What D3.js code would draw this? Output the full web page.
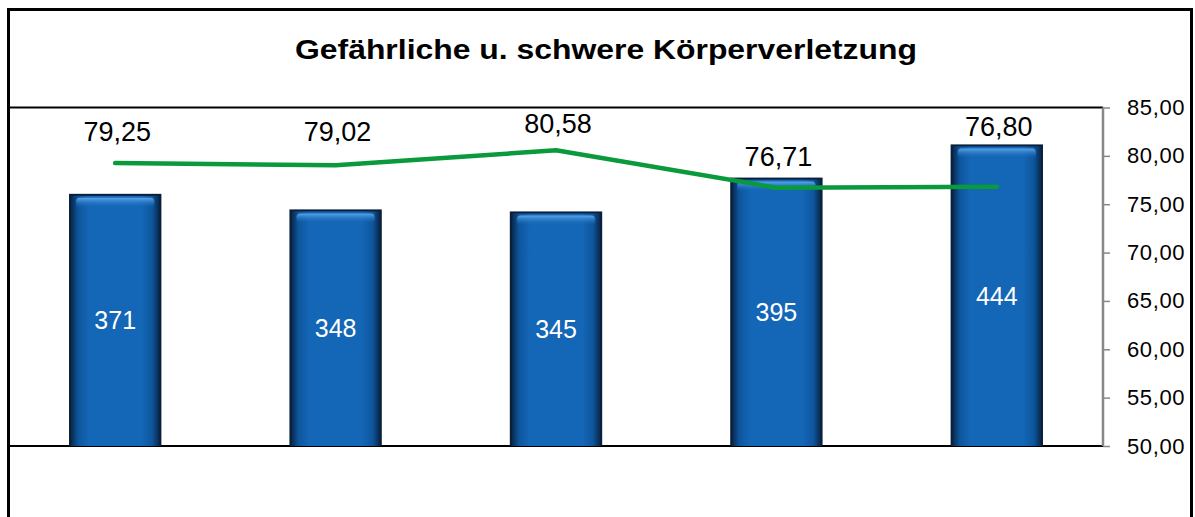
<!DOCTYPE html>
<html>
<head>
<meta charset="utf-8">
<script src="https://cdnjs.cloudflare.com/ajax/libs/d3/7.8.5/d3.min.js"></script>
<style>
  html, body { margin: 0; padding: 0; background: #fff; }
  svg text { font-family: "Liberation Sans", Arial, sans-serif; }
</style>
</head>
<body>
<div id="chart"></div>
<script>
// data
var categories = ["1", "2", "3", "4", "5"];
var cases = [371, 348, 345, 395, 444];
var rates = [79.25, 79.02, 80.58, 76.71, 76.80];
var rateTicks = [50, 55, 60, 65, 70, 75, 80, 85];
var title = "Gefährliche u. schwere Körperverletzung";

var W = 1195, H = 517;
var plot = { left: 8, right: 1103, top: 107.5, bottom: 446 };

var fmt = function (v) { return v.toFixed(2).replace(".", ","); };

var svg = d3.select("#chart").append("svg")
    .attr("width", W).attr("height", H);

var x = d3.scaleBand().domain(categories)
    .range([5, 1107]).paddingInner(0.59).paddingOuter(0.295);
var yBar = d3.scaleLinear().domain([0, 500]).range([plot.bottom, plot.top]);
var yRate = d3.scaleLinear().domain([50, 85]).range([plot.bottom, plot.top]);

// gradients for the bevelled bars
var defs = svg.append("defs");
var hg = defs.append("linearGradient").attr("id", "barH")
    .attr("x1", 0).attr("x2", 1).attr("y1", 0).attr("y2", 0);
hg.append("stop").attr("offset", "0%").attr("stop-color", "#08284c");
hg.append("stop").attr("offset", "8%").attr("stop-color", "#0e559c");
hg.append("stop").attr("offset", "20%").attr("stop-color", "#1466b6");
hg.append("stop").attr("offset", "80%").attr("stop-color", "#1466b6");
hg.append("stop").attr("offset", "92%").attr("stop-color", "#0e559c");
hg.append("stop").attr("offset", "100%").attr("stop-color", "#08284c");
var tg = defs.append("linearGradient").attr("id", "barTop")
    .attr("x1", 0).attr("x2", 0).attr("y1", 0).attr("y2", 1);
tg.append("stop").attr("offset", "0%").attr("stop-color", "#5aa6ea");
tg.append("stop").attr("offset", "100%").attr("stop-color", "#1466b6").attr("stop-opacity", 0);

// outer frame
svg.append("rect")
    .attr("x", 8.5).attr("y", 9.5).attr("width", 1183).attr("height", 540)
    .attr("fill", "none").attr("stroke", "#000").attr("stroke-width", 3);

// title
svg.append("text")
    .attr("x", 606).attr("y", 59)
    .attr("text-anchor", "middle")
    .attr("font-size", 27).attr("font-weight", "bold")
    .attr("textLength", 622).attr("lengthAdjust", "spacingAndGlyphs")
    .text(title);

// plot area top and bottom edges
svg.append("line").attr("x1", plot.left).attr("x2", plot.right)
    .attr("y1", plot.top).attr("y2", plot.top)
    .attr("stroke", "#000").attr("stroke-width", 2);
svg.append("line").attr("x1", plot.left).attr("x2", plot.right)
    .attr("y1", plot.bottom).attr("y2", plot.bottom)
    .attr("stroke", "#000").attr("stroke-width", 2);

// bars
var bars = svg.selectAll(".bar").data(cases).enter().append("g")
    .attr("class", "bar");
bars.append("rect")
    .attr("x", function (d, i) { return x(categories[i]) - 1; })
    .attr("y", function (d) { return yBar(d) - 1; })
    .attr("width", x.bandwidth() + 2)
    .attr("height", function (d) { return plot.bottom - yBar(d) + 1; })
    .attr("fill", "#0a1f3a");
bars.append("rect")
    .attr("x", function (d, i) { return x(categories[i]) + 1; })
    .attr("y", function (d) { return yBar(d) + 1; })
    .attr("width", x.bandwidth() - 2)
    .attr("height", function (d) { return plot.bottom - yBar(d) - 1; })
    .attr("fill", "url(#barH)");
bars.append("rect")
    .attr("x", function (d, i) { return x(categories[i]) + 6; })
    .attr("y", function (d) { return yBar(d) + 3; })
    .attr("width", x.bandwidth() - 12)
    .attr("height", 10).attr("rx", 4)
    .attr("fill", "url(#barTop)");
bars.append("text")
    .attr("x", function (d, i) { return x(categories[i]) + x.bandwidth() / 2; })
    .attr("y", function (d) { return (yBar(d) + plot.bottom) / 2 + 9; })
    .attr("text-anchor", "middle")
    .attr("font-size", 25).attr("fill", "#fff")
    .text(function (d) { return d; });

// right axis
var axis = d3.axisRight(yRate).tickValues(rateTicks).tickSize(7)
    .tickPadding(17).tickFormat(fmt);
var ag = svg.append("g").attr("transform", "translate(" + plot.right + ",0)").call(axis);
ag.select(".domain").attr("stroke", "#888").attr("stroke-width", 2.5)
    .attr("d", "M0," + plot.top + "V" + plot.bottom);
ag.selectAll(".tick line").attr("stroke", "#888").attr("stroke-width", 1.5);
ag.selectAll(".tick text").attr("font-size", 22).attr("fill", "#000")
    .attr("letter-spacing", 0.6)
    .style("font-family", "'Liberation Sans', Arial, sans-serif");

// rate line
var line = d3.line()
    .x(function (d, i) { return x(categories[i]) + x.bandwidth() / 2; })
    .y(function (d) { return yRate(d); });
svg.append("path").datum(rates)
    .attr("d", line)
    .attr("fill", "none").attr("stroke", "#0a9a3c")
    .attr("stroke-width", 4.5).attr("stroke-linecap", "round")
    .attr("stroke-linejoin", "round");

// rate labels (lift above the point, as placed in the original)
var labelLift = [22, 24, 17, 22, 51];
svg.selectAll(".rateLabel").data(rates).enter().append("text")
    .attr("class", "rateLabel")
    .attr("x", function (d, i) { return x(categories[i]) + x.bandwidth() / 2 + 2; })
    .attr("y", function (d, i) { return yRate(d) - labelLift[i]; })
    .attr("text-anchor", "middle")
    .attr("font-size", 27).attr("fill", "#000")
    .text(fmt);
</script>
</body>
</html>
